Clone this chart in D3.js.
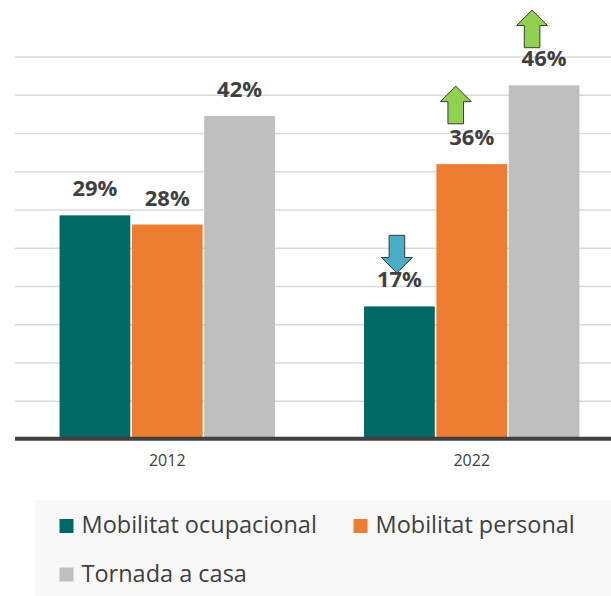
<!DOCTYPE html>
<html>
<head>
<meta charset="utf-8">
<script src="https://cdn.jsdelivr.net/npm/d3@7/dist/d3.min.js"></script>
<style>
  html, body { margin: 0; padding: 0; background: #ffffff; }
  svg { display: block; font-family: "Open Sans", "Noto Sans", sans-serif; }
</style>
</head>
<body>
<svg id="chart" width="611" height="596"></svg>
<script>
// ---- Data ----
const years = ["2012", "2022"];
const series = ["Mobilitat ocupacional", "Mobilitat personal", "Tornada a casa"];
const values2012 = [29.3, 28.1, 42.3];
const values2022 = [17.4, 36.0, 46.3];
const yTicks = [0, 5, 10, 15, 20, 25, 30, 35, 40, 45, 50];
const colors = ["#006865", "#ED7D31", "#BFBFBF"];
// trend arrows on the 2022 bars
const arrowYears = ["2022", "2022", "2022"];
const arrowSeries = ["Mobilitat ocupacional", "Mobilitat personal", "Tornada a casa"];
const arrowDirs = ["down", "up", "up"];

const table = [];
years.forEach((yr, i) => {
  const vals = i === 0 ? values2012 : values2022;
  series.forEach((s, j) => table.push({ year: yr, series: s, value: vals[j], color: colors[j] }));
});

// ---- Layout ----
const svg = d3.select("#chart");
const plotLeft = 15, plotRight = 624;
const y = d3.scaleLinear().domain([0, 50]).range([439.5, 57]);
const x0 = d3.scaleBand().domain(years).range([plotLeft, plotRight]).padding(0);
const groupW = 217;
const x1 = d3.scaleBand().domain(series).range([0, groupW]).padding(0);
const barGap = 1.6;
const barX = d => x0(d.year) + (x0.bandwidth() - groupW) / 2 + x1(d.series) + barGap / 2;
const barW = x1.bandwidth() - barGap;

// gridlines
svg.append("g").selectAll("line").data(yTicks.filter(t => t > 0)).join("line")
  .attr("x1", plotLeft).attr("x2", 611)
  .attr("y1", d => y(d)).attr("y2", d => y(d))
  .attr("stroke", "#d9d9d9").attr("stroke-width", 1.5);

// bars
svg.append("g").selectAll("rect").data(table).join("rect")
  .attr("x", barX)
  .attr("width", barW)
  .attr("y", d => y(d.value))
  .attr("height", d => y(0) - y(d.value))
  .attr("fill", d => d.color);

// baseline
svg.append("line")
  .attr("x1", plotLeft).attr("x2", 611)
  .attr("y1", 438.7).attr("y2", 438.7)
  .attr("stroke", "#404040").attr("stroke-width", 4);

// x axis labels
const xAxis = d3.axisBottom(x0).tickSize(0).tickPadding(0);
const gx = svg.append("g").attr("transform", "translate(0,454.5)").call(xAxis);
gx.select(".domain").remove();
gx.selectAll("text")
  .attr("font-family", "'Open Sans', sans-serif")
  .attr("font-size", 16)
  .attr("fill", "#404040")
  .attr("dy", "0.71em");

// value labels
svg.append("g").selectAll("text").data(table).join("text")
  .attr("x", d => barX(d) + barW / 2)
  .attr("y", d => y(d.value) - 19)
  .attr("text-anchor", "middle")
  .attr("font-size", 22)
  .attr("font-weight", "bold")
  .attr("fill", "#404040")
  .text(d => Math.round(d.value) + "%");

// trend arrows
const arrowLayout = {
  "Mobilitat ocupacional": { dx: -2.5, gap: 14.4 },
  "Mobilitat personal": { dx: -16, gap: 21.3 },
  "Tornada a casa": { dx: -12, gap: 18.6 }
};
const aW = 31, shaftW = 15.6, headH = 15.5, totH = 37.7;
function arrowPath(cx, yAnchor, dir) {
  const hw = aW / 2, sw = shaftW / 2;
  if (dir === "up") {
    const b = yAnchor, tip = b - totH, hb = tip + headH;
    return `M${cx},${tip}L${cx + hw},${hb}L${cx + sw},${hb}L${cx + sw},${b}L${cx - sw},${b}L${cx - sw},${hb}L${cx - hw},${hb}Z`;
  } else {
    const tip = yAnchor, top = tip - totH, hb = tip - headH;
    return `M${cx},${tip}L${cx + hw},${hb}L${cx + sw},${hb}L${cx + sw},${top}L${cx - sw},${top}L${cx - sw},${hb}L${cx - hw},${hb}Z`;
  }
}
const arrows = arrowYears.map((yr, i) => {
  const d = table.find(t => t.year === yr && t.series === arrowSeries[i]);
  return { d, dir: arrowDirs[i] };
});
svg.append("g").selectAll("path").data(arrows).join("path")
  .attr("d", a => {
    const L = arrowLayout[a.d.series];
    const cx = barX(a.d) + barW / 2 + L.dx;
    const labelBase = y(a.d.value) - 19;
    return arrowPath(cx, labelBase - L.gap, a.dir);
  })
  .attr("fill", a => a.dir === "up" ? "#92D050" : "#4BACC6")
  .attr("stroke", "#3a3a3a").attr("stroke-width", 1)
  .attr("stroke-linejoin", "miter");

// legend
svg.append("rect").attr("x", 35).attr("y", 500).attr("width", 576).attr("height", 96).attr("fill", "#f8f8f8");
const legendPos = [[59.5, 533.3], [353.5, 533.3], [59.5, 581.8]];
const lg = svg.append("g").selectAll("g").data(series).join("g")
  .attr("transform", (d, i) => `translate(${legendPos[i][0]},${legendPos[i][1]})`);
lg.append("rect").attr("x", 0).attr("y", -14.3).attr("width", 14).attr("height", 14)
  .attr("fill", (d, i) => colors[i]);
lg.append("text").attr("x", 22).attr("y", 0)
  .attr("font-size", 23.5).attr("fill", "#404040")
  .text(d => d);
</script>
</body>
</html>
